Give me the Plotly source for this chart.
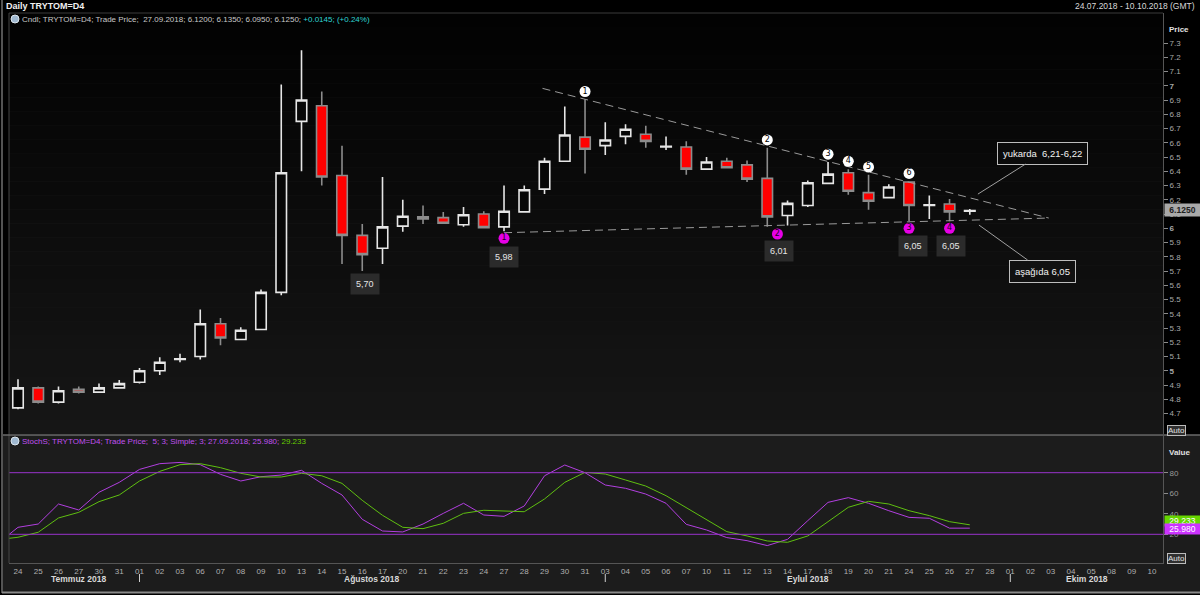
import plotly.graph_objects as go

# ---------------- data ----------------
day_labels = ["24", "25", "26", "27", "30", "31",
              "01", "02", "03", "06", "07", "08", "09", "10", "13", "14", "15", "16", "17",
              "20", "21", "22", "23", "24", "27", "28", "29", "30", "31",
              "03", "04", "05", "06", "07", "10", "11", "12", "13", "14", "17", "18", "19",
              "20", "21", "24", "25", "26", "27", "28",
              "01", "02", "03", "04", "05", "08", "09", "10"]
month_names = ["Temmuz 2018", "Ağustos 2018", "Eylul 2018", "Ekim 2018"]
month_start = [0, 6, 29, 49]

opens = [4.74, 4.88, 4.78, 4.87, 4.85, 4.88, 4.92, 5.00, 5.08, 5.10, 5.33, 5.22, 5.29, 5.55,
         6.75, 6.86, 6.37, 5.95, 5.86, 6.015, 6.08, 6.075, 6.025, 6.10, 6.01, 6.115, 6.275,
         6.47, 6.64, 6.58, 6.645, 6.66, 6.57, 6.57, 6.415, 6.47, 6.445, 6.35, 6.09, 6.16,
         6.315, 6.39, 6.25, 6.215, 6.325, 6.16, 6.17, 6.12]
highs = [4.94, 4.89, 4.89, 4.89, 4.91, 4.935, 5.02, 5.095, 5.12, 5.43, 5.37, 5.305, 5.57, 7.01,
         7.25, 6.96, 6.58, 6.03, 6.36, 6.20, 6.16, 6.115, 6.15, 6.12, 6.30, 6.30, 6.495,
         6.855, 6.905, 6.745, 6.73, 6.72, 6.645, 6.61, 6.50, 6.495, 6.475, 6.565, 6.195, 6.335,
         6.465, 6.415, 6.375, 6.31, 6.33, 6.23, 6.205, 6.135]
lows = [4.73, 4.77, 4.77, 4.84, 4.85, 4.88, 4.91, 4.97, 5.06, 5.08, 5.18, 5.22, 5.29, 5.53,
        6.40, 6.30, 5.75, 5.70, 5.75, 5.975, 6.03, 6.035, 6.01, 6.005, 5.98, 6.115, 6.24,
        6.47, 6.385, 6.515, 6.59, 6.565, 6.55, 6.375, 6.415, 6.425, 6.325, 6.01, 6.02, 6.15,
        6.315, 6.235, 6.13, 6.215, 6.05, 6.065, 6.05, 6.095]
closes = [4.88, 4.78, 4.86, 4.85, 4.88, 4.91, 5.00, 5.06, 5.085, 5.33, 5.23, 5.285, 5.55, 6.39,
          6.90, 6.36, 5.95, 5.815, 6.01, 6.085, 6.065, 6.035, 6.095, 6.005, 6.12, 6.27, 6.47,
          6.655, 6.555, 6.62, 6.695, 6.61, 6.575, 6.415, 6.465, 6.425, 6.345, 6.08, 6.175, 6.32,
          6.38, 6.26, 6.19, 6.29, 6.16, 6.165, 6.115, 6.125]

# stochastic (first value = 23.07, just left of the visible range)
stoch_k = [11.0, 26.8, 30.0, 49.5, 43.7, 60.9, 70.6, 83.2, 88.8, 90.0, 87.8, 78.4, 71.9, 76.1, 77.7,
           82.3, 69.6, 58.3, 34.6, 23.2, 22.3, 30.0, 40.4, 50.2, 38.8, 37.5, 47.6, 77.0, 87.5,
           80.0, 68.0, 64.8, 59.2, 50.2, 29.7, 24.2, 16.8, 13.8, 9.0, 15.1, 33.3, 51.1, 55.7,
           50.2, 43.0, 36.5, 35.6, 25.98, 25.98]
stoch_d = [14.8, 17.1, 22.0, 35.9, 41.4, 51.8, 58.3, 71.9, 81.3, 87.8, 88.8, 84.9, 79.4, 75.8,
           75.8, 79.4, 77.0, 69.6, 53.1, 38.5, 26.8, 25.5, 30.7, 40.4, 43.4, 42.7, 42.0, 54.4,
           70.6, 80.3, 78.7, 72.9, 67.0, 57.6, 45.9, 33.9, 22.6, 18.4, 13.5, 12.2, 18.4, 32.3,
           46.3, 52.1, 49.5, 43.0, 38.2, 32.3, 29.233]
stoch_levels = [80, 20]

price_ticks = [round(4.7 + 0.1 * k, 1) for k in range(27)]
stoch_ticks = [20, 40, 60, 80]

# trend lines (analysis drawing)
upper_line_x = [25.9, 50.9]
upper_line_y = [6.982, 6.072]
lower_line_x = [24.0, 50.9]
lower_line_y = [5.969, 6.072]

# numbered points
upper_mark_idx = [28, 37, 40, 41, 42, 44]
upper_mark_txt = ["1", "2", "3", "4", "5", "6"]
lower_mark_x = [24, 37.5, 44, 46]
lower_mark_idx = [24, 37, 44, 46]
lower_mark_txt = ["1", "2", "3", "4"]

low_label_idx = [17, 24, 37, 44, 46]
low_label_x = [17.15, 24, 37.6, 44.2, 46.05]
low_label_txt = ["5,70", "5,98", "6,01", "6,05", "6,05"]

# ---------------- geometry helpers ----------------
W, H = 1200, 595
PX_L, PX_R = 9, 1163
X0, X1 = -0.444, 56.54


def pxx(x):
    return x / W


def pxy(y):
    return 1 - y / H


FONT = "Liberation Sans"
fig = go.Figure()

xs = list(range(len(closes)))
fig.add_trace(go.Candlestick(
    x=xs, open=opens, high=highs, low=lows, close=closes,
    increasing=dict(line=dict(color="#e6e6e6", width=1.6), fillcolor="#070707"),
    decreasing=dict(line=dict(color="#8c8c8c", width=1.6), fillcolor="#ff0000"),
    whiskerwidth=0, xaxis="x", yaxis="y", hoverinfo="skip", showlegend=False))

# trend lines
for lx, ly in [(upper_line_x, upper_line_y), (lower_line_x, lower_line_y)]:
    fig.add_trace(go.Scatter(x=lx, y=ly, mode="lines", xaxis="x", yaxis="y",
                             line=dict(color="#9a9a9a", width=1, dash="8px,5px"),
                             hoverinfo="skip", showlegend=False))

# numbered markers
fig.add_trace(go.Scatter(
    x=upper_mark_idx, y=[highs[i] + 0.055 for i in upper_mark_idx],
    mode="markers+text", text=upper_mark_txt, textposition="middle center",
    textfont=dict(color="#000000", size=8, family="DejaVu Sans"),
    marker=dict(size=11, color="#ffffff"), xaxis="x", yaxis="y",
    hoverinfo="skip", showlegend=False))
fig.add_trace(go.Scatter(
    x=lower_mark_x, y=[lows[i] - 0.05 for i in lower_mark_idx],
    mode="markers+text", text=lower_mark_txt, textposition="middle center",
    textfont=dict(color="#1a001a", size=8, family="DejaVu Sans"),
    marker=dict(size=11, color="#e600e6"), xaxis="x", yaxis="y",
    hoverinfo="skip", showlegend=False))

# stochastic
sx = list(range(-1, len(stoch_k) - 1))
fig.add_trace(go.Scatter(x=sx, y=stoch_k, mode="lines", xaxis="x", yaxis="y2",
                         line=dict(color="#b23fe0", width=1), hoverinfo="skip", showlegend=False))
fig.add_trace(go.Scatter(x=sx, y=stoch_d, mode="lines", xaxis="x", yaxis="y2",
                         line=dict(color="#5fbf10", width=1), hoverinfo="skip", showlegend=False))

shapes = []
# lower region background
shapes.append(dict(type="rect", xref="paper", yref="paper", x0=pxx(3), x1=1, y0=pxy(592), y1=pxy(435),
                   fillcolor="#1c1c1c", line=dict(width=0), layer="below"))
# gradient in main panel
N = 30
for k in range(N):
    t = k / (N - 1)
    c = int(round(2 + 20 * t))
    shapes.append(dict(type="rect", xref="x domain", yref="y domain", x0=0, x1=1,
                       y0=1 - (k + 1) / N, y1=1 - k / N,
                       fillcolor=f"rgb({c},{c},{c})", line=dict(width=0), layer="below"))
# stoch levels
for lv in stoch_levels:
    shapes.append(dict(type="line", xref="x domain", yref="y2", x0=0, x1=1, y0=lv, y1=lv,
                       line=dict(color="#9933cc", width=1)))
# borders
shapes += [
    dict(type="line", xref="paper", yref="paper", x0=pxx(PX_L), x1=pxx(PX_R), y0=pxy(13), y1=pxy(13),
         line=dict(color="#3a3a3a", width=1)),
    dict(type="line", xref="paper", yref="paper", x0=pxx(PX_L), x1=pxx(PX_L), y0=pxy(563), y1=pxy(13),
         line=dict(color="#444444", width=1)),
    dict(type="line", xref="paper", yref="paper", x0=pxx(3), x1=1, y0=pxy(435), y1=pxy(435),
         line=dict(color="#6a6a6a", width=1.5)),
    dict(type="line", xref="paper", yref="paper", x0=pxx(2), x1=pxx(2), y0=pxy(593), y1=pxy(0),
         line=dict(color="#6f6f6f", width=1.5)),
    dict(type="line", xref="paper", yref="paper", x0=pxx(2), x1=1, y0=pxy(592.5), y1=pxy(592.5),
         line=dict(color="#8a8a8a", width=2)),
]
# month separators
for ms in month_start[1:]:
    shapes.append(dict(type="line", xref="x", yref="paper", x0=ms, x1=ms, y0=pxy(582), y1=pxy(574),
                       line=dict(color="#cfcfcf", width=1)))
# header icons
for cy in [19, 441]:
    shapes.append(dict(type="circle", xref="paper", yref="paper", x0=pxx(11), x1=pxx(19),
                       y0=pxy(cy + 4), y1=pxy(cy - 4), fillcolor="#9fb8d0",
                       line=dict(color="#dde6ee", width=1)))

ann = []


def text(x, y, s, size=8, color="#d0d0d0", anchor="left", **kw):
    ann.append(dict(x=pxx(x), y=pxy(y), xref="paper", yref="paper", text=s, showarrow=False,
                    xanchor=anchor, yanchor="middle", font=dict(size=size, color=color, family=FONT), **kw))


text(4, 6, "<b>Daily TRYTOM=D4</b>", size=9, color="#f0f0f0")
text(1197, 6, "24.07.2018 - 10.10.2018 (GMT)", size=8.5, color="#d8d8d8", anchor="right")
text(20, 19, "Cndl; TRYTOM=D4; Trade Price;  27.09.2018; 6.1200; 6.1350; 6.0950; 6.1250; "
             "<span style='color:#2fd4d4'>+0.0145; (+0.24%)</span>", size=8, color="#c8c8c8")
text(20, 441, "StochS; TRYTOM=D4; Trade Price;  5; 3; Simple; 3; 27.09.2018; 25.980; "
              "<span style='color:#66cc00'>29.233</span>", size=8, color="#c050f0")
text(1167, 29, "<b>Price</b>", size=8, color="#e0e0e0")
text(1167, 452, "<b>Value</b>", size=8, color="#e0e0e0")
for yy in [430, 558]:
    text(1167, yy, "Auto", size=8, color="#e0e0e0", bgcolor="#303030", bordercolor="#bbbbbb",
         borderwidth=1, borderpad=0)

# month labels
bounds = month_start + [X1]
for i, name in enumerate(month_names):
    ann.append(dict(x=(bounds[i] + bounds[i + 1]) / 2, y=pxy(579), xref="x", yref="paper",
                    text=f"<b>{name}</b>", showarrow=False, xanchor="center", yanchor="middle",
                    font=dict(size=8.5, color="#d8d8d8", family=FONT)))

# last price tag
ann.append(dict(x=pxx(PX_R + 1), y=closes[-1], xref="paper", yref="y", text="<b>6.1250</b>",
                showarrow=False, xanchor="left", yanchor="middle", bgcolor="#a9a9a9",
                font=dict(size=8.5, color="#202020", family=FONT), borderpad=1, width=33))
# stoch tags
ann.append(dict(x=pxx(PX_R + 1), y=stoch_d[-1], xref="paper", yref="y2", text="29.233",
                showarrow=False, xanchor="left", yanchor="middle", bgcolor="#66d600", yshift=4,
                font=dict(size=8.5, color="#ffffff", family=FONT), borderpad=0, width=35))
ann.append(dict(x=pxx(PX_R + 1), y=stoch_k[-1], xref="paper", yref="y2", text="25.980",
                showarrow=False, xanchor="left", yanchor="middle", bgcolor="#cc33ff", yshift=-1,
                font=dict(size=8.5, color="#ffffff", family=FONT), borderpad=0, width=35))

# low value labels
yshifts = [-13, -26, -24, -25, -25]
for idx, xv, t, ys in zip(low_label_idx, low_label_x, low_label_txt, yshifts):
    ann.append(dict(x=xv, y=lows[idx], xref="x", yref="y", text=t, showarrow=False,
                    yshift=ys, xanchor="center", yanchor="middle", bgcolor="#2b2b2b",
                    borderpad=5, font=dict(size=9, color="#e6e6e6", family=FONT)))

# callout boxes
ann.append(dict(x=47.4, y=6.24, xref="x", yref="y", text="yukarda  6,21-6,22", showarrow=True,
                arrowhead=0, arrowwidth=1, arrowcolor="#a0a0a0", ax=65, ay=-41, standoff=0,
                bgcolor="#0b0b0b", bordercolor="#bdbdbd", borderwidth=1, borderpad=5,
                font=dict(size=9.5, color="#f2f2f2", family=FONT)))
ann.append(dict(x=47.45, y=6.023, xref="x", yref="y", text="aşağıda 6,05", showarrow=True,
                arrowhead=0, arrowwidth=1, arrowcolor="#a0a0a0", ax=64, ay=46, standoff=0,
                bgcolor="#111111", bordercolor="#bdbdbd", borderwidth=1, borderpad=5,
                font=dict(size=9.5, color="#f2f2f2", family=FONT)))

# axis ranges from pixel geometry
main_top, main_bot = 13, 434
p_top = 6 + (228.3 - main_top) / 142.5
p_bot = 6 + (228.3 - main_bot) / 142.5
st_top, st_bot = 436, 563
v_top = 20 + (534.3 - st_top) / 1.0267
v_bot = 20 + (534.3 - st_bot) / 1.0267

price_text = [f"<b>{v:g}</b>" if abs(v - round(v)) < 1e-9 else f"{v:g}" for v in price_ticks]

fig.update_layout(
    width=W, height=H, margin=dict(l=0, r=0, t=0, b=0),
    paper_bgcolor="#000000", plot_bgcolor="#1c1c1c",
    showlegend=False, hovermode=False, boxgap=0.26,
    font=dict(family=FONT, size=8, color="#aaaaaa"),
    xaxis=dict(domain=[pxx(PX_L), pxx(PX_R)], range=[X0, X1], anchor="y2",
               tickmode="array", tickvals=list(range(len(day_labels))), ticktext=day_labels,
               tickfont=dict(size=8, color="#b0b0b0"), ticks="", ticklabelstandoff=0,
               showgrid=False, zeroline=False,
               showline=True, linecolor="#555555", linewidth=1, rangeslider=dict(visible=False),
               fixedrange=True),
    yaxis=dict(domain=[pxy(main_bot), pxy(main_top)], range=[p_bot, p_top], side="right",
               anchor="x", tickmode="array", tickvals=price_ticks, ticktext=price_text,
               tickfont=dict(size=8, color="#a8a8a8"), ticks="outside", ticklen=4,
               tickcolor="#8a8a8a", showgrid=False, zeroline=False, showline=True,
               linecolor="#555555"),
    yaxis2=dict(domain=[pxy(st_bot), pxy(st_top)], range=[v_bot, v_top], side="right",
                anchor="x", tickmode="array", tickvals=stoch_ticks,
                tickfont=dict(size=8, color="#9a9a9a"), ticks="outside", ticklen=4,
                tickcolor="#8a8a8a", showgrid=False, zeroline=False, showline=True,
                linecolor="#555555"),
    shapes=shapes, annotations=ann,
)

fig.write_html("out.html", config={"displayModeBar": False, "staticPlot": True},
               post_script="document.body.style.margin='0';document.body.style.overflow='hidden';")
